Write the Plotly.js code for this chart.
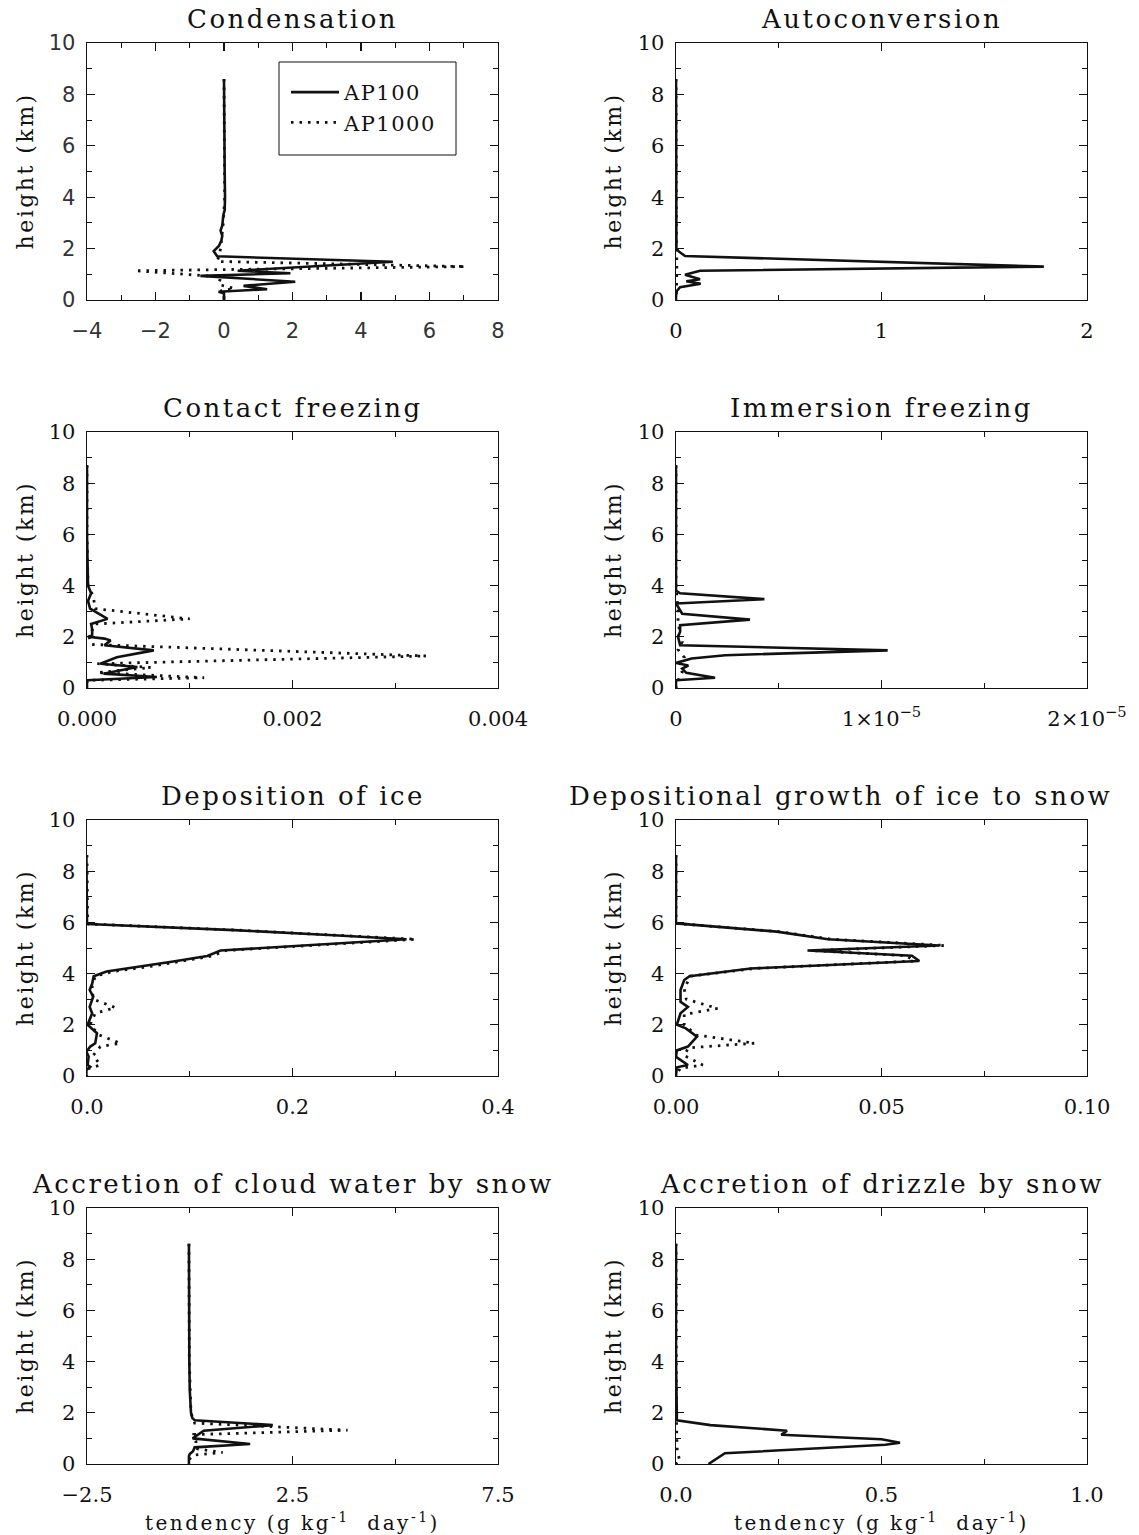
<!DOCTYPE html>
<html>
<head>
<meta charset="utf-8">
<script src="https://cdn.plot.ly/plotly-3.0.1.min.js"></script>
<style>
  html, body { margin: 0; padding: 0; background: #fff; }
  .annotation-text { letter-spacing: 2.5px; }
  .legendtext { letter-spacing: 1.5px; }
</style>
</head>
<body>
<div id="chart" style="width:1139px;height:1535px;"></div>
<script>
// ---------------- Data ----------------
const seriesNames = ["AP100", "AP1000"];
const panelTitles = ["Condensation", "Autoconversion", "Contact freezing", "Immersion freezing",
  "Deposition of ice", "Depositional growth of ice to snow",
  "Accretion of cloud water by snow", "Accretion of drizzle by snow"];

// Condensation
const condH100  = [8.6, 7.0, 5.0, 4.0, 3.5, 3.3, 2.9, 2.7, 2.5, 2.3, 2.1, 1.9, 1.7, 1.49, 1.14, 1.04, 0.94, 0.71, 0.55, 0.42, 0.32, 0.26, 0.0];
const condX100  = [0.0, 0.0, 0.02, 0.03, 0.02, -0.02, -0.05, -0.1, -0.05, -0.08, -0.15, -0.3, -0.2, 4.93, 0.4, 1.94, -0.69, 2.08, 0.57, 1.26, -0.16, 0.0, 0.0];
const condH1000 = [8.6, 6.0, 4.0, 3.0, 2.0, 1.7, 1.5, 1.3, 1.14, 0.9, 0.6, 0.45, 0.35, 0.2, 0.0];
const condX1000 = [0.0, 0.0, 0.02, -0.02, -0.1, -0.15, -0.2, 7.05, -2.6, -0.1, -0.15, 0.3, -0.1, 0.0, 0.0];

// Autoconversion
const autoH100  = [8.6, 6.0, 4.0, 2.0, 1.9, 1.71, 1.3, 1.14, 0.98, 0.81, 0.73, 0.63, 0.5, 0.35, 0.15, 0.0];
const autoX100  = [0, 0, 0, 0.002, 0.012, 0.044, 1.79, 0.117, 0.044, 0.117, 0.05, 0.12, 0.02, 0.004, 0.0, 0.0];
const autoH1000 = [8.6, 4.0, 2.0, 1.5, 1.0, 0.5, 0.0];
const autoX1000 = [0, 0, 0.002, 0.004, 0.004, 0.003, 0];

// Contact freezing
const contH100  = [8.7, 6.0, 4.0, 3.7, 3.4, 3.1, 2.7, 2.5, 2.3, 2.05, 2.0, 1.93, 1.86, 1.67, 1.47, 1.2, 0.95, 0.82, 0.56, 0.43, 0.3, 0.0];
const contX100  = [0, 0, 0.00001, 0.00004, 0.00001, 0.00003, 0.0002, 0.00004, 0.00005, 0.00005, 0.00001, 0.00017, 0.00023, 0.00017, 0.00065, 0.00029, 0.00013, 0.00049, 0.00016, 0.00068, 0.0, 0.0];
const contH1000 = [8.7, 6.0, 4.0, 3.6, 3.1, 2.7, 2.5, 2.0, 1.7, 1.25, 0.95, 0.8, 0.6, 0.4, 0.3, 0.0];
const contX1000 = [0, 0, 0.00001, 0.00006, 0.00008, 0.00100, 0.00008, 0.00002, 0.00005, 0.00330, 0.0001, 0.00062, 0.0001, 0.00114, 0.0, 0.0];

// Immersion freezing
const immH100  = [8.7, 6.0, 4.0, 3.8, 3.7, 3.47, 3.3, 2.9, 2.67, 2.45, 2.2, 2.0, 1.67, 1.47, 1.28, 1.15, 0.98, 0.88, 0.76, 0.59, 0.4, 0.3, 0.0];
const immX100  = [0, 0, 0, 0, 0.02e-5, 0.43e-5, 0.0, 0.03e-5, 0.36e-5, 0.02e-5, 0.02e-5, 0.01e-5, 0.02e-5, 1.03e-5, 0.24e-5, 0.076e-5, 0.0, 0.06e-5, 0.03e-5, 0.05e-5, 0.19e-5, 0.0, 0.0];
const immH1000 = [8.7, 4.0, 3.0, 2.5, 2.2, 2.0, 1.8, 1.5, 1.2, 1.0, 0.6, 0.3, 0.0];
const immX1000 = [0, 0, 0.01e-5, 0.01e-5, 0.02e-5, 0.01e-5, 0.03e-5, 0.01e-5, 0.04e-5, 0.02e-5, 0.03e-5, 0.01e-5, 0];

// Deposition of ice
const depH100  = [8.63, 7.8, 7.0, 6.0, 5.94, 5.7, 5.5, 5.34, 4.9, 4.69, 4.47, 4.27, 4.08, 3.9, 3.6, 3.36, 3.1, 2.7, 2.45, 2.0, 1.67, 1.28, 1.15, 0.95, 0.76, 0.43, 0.36, 0.23, 0.0];
const depX100  = [-0.0006, -0.0006, 0, 0, 0.0006, 0.143, 0.24, 0.311, 0.13, 0.117, 0.084, 0.052, 0.019, 0.0065, 0.005, 0.0026, 0.006, 0.0026, 0.005, 0.0006, 0.0097, 0.008, 0.0032, -0.0006, 0.0016, 0.0006, 0.0032, -0.0006, -0.0006];
const depH1000 = [8.63, 7.0, 6.0, 5.94, 5.7, 5.5, 5.34, 4.9, 4.69, 4.47, 4.27, 4.08, 3.9, 3.5, 3.0, 2.67, 2.45, 2.0, 1.6, 1.28, 1.15, 0.8, 0.43, 0.3, 0.0];
const depX1000 = [0, 0, 0, 0.0006, 0.145, 0.245, 0.32, 0.135, 0.122, 0.09, 0.06, 0.025, 0.008, 0.005, 0.006, 0.0276, 0.008, 0.003, 0.012, 0.0324, 0.013, 0.006, 0.013, 0.002, 0];

// Depositional growth of ice to snow
const dgH100  = [8.63, 7.0, 6.0, 5.96, 5.64, 5.34, 5.1, 4.9, 4.7, 4.49, 4.2, 3.9, 3.75, 3.36, 2.9, 2.7, 2.45, 2.0, 1.86, 1.54, 1.15, 1.0, 0.75, 0.43, 0.34, 0.0];
const dgX100  = [0, 0, 0, 0, 0.0245, 0.037, 0.064, 0.032, 0.0574, 0.0592, 0.0182, 0.0033, 0.0020, 0.0011, 0.0011, 0.0029, 0.0011, 0.0002, 0.0024, 0.0051, 0.0029, 0.0002, 0.0, 0.0029, 0.0002, 0];
const dgH1000 = [8.63, 6.0, 5.96, 5.64, 5.34, 5.1, 4.9, 4.7, 4.49, 4.2, 3.9, 3.4, 3.0, 2.64, 2.4, 2.0, 1.6, 1.28, 1.1, 0.8, 0.43, 0.3, 0.0];
const dgX1000 = [0, 0, 0, 0.025, 0.038, 0.0655, 0.033, 0.056, 0.058, 0.019, 0.0035, 0.002, 0.0025, 0.0101, 0.002, 0.002, 0.005, 0.0191, 0.003, 0.002, 0.0065, 0.001, 0];

// Accretion of cloud water by snow
const acH100  = [8.6, 6.0, 4.0, 2.9, 2.0, 1.8, 1.71, 1.52, 1.3, 1.0, 0.78, 0.65, 0.5, 0.39, 0.3, 0.0];
const acX100  = [-0.02, -0.02, -0.01, 0.0, 0.03, 0.06, 0.12, 2.02, 0.34, 0.07, 1.47, 0.12, 0.08, 0.0, -0.02, -0.02];
const acH1000 = [8.6, 4.0, 2.0, 1.6, 1.32, 1.15, 0.9, 0.6, 0.45, 0.35, 0.2, 0.0];
const acX1000 = [-0.02, -0.01, 0.03, 0.12, 3.84, 0.1, 0.15, 0.15, 0.8, 0.1, 0.0, -0.02];

// Accretion of drizzle by snow
const adH100  = [8.6, 6.0, 4.0, 2.0, 1.71, 1.52, 1.3, 1.14, 0.97, 0.83, 0.75, 0.42, 0.0];
const adX100  = [0, 0, 0, 0.002, 0.002, 0.084, 0.27, 0.256, 0.5, 0.545, 0.509, 0.119, 0.079];
const adH1000 = [8.6, 4.0, 2.0, 1.0, 0.5, 0.2, 0.1, 0.0];
const adX1000 = [0, 0, 0.001, 0.002, 0.003, 0.008, 0.01, 0];

// Axis ranges / ticks
const xRanges = [[-4, 8], [0, 2], [0, 0.004], [0, 2e-5], [0, 0.4], [0, 0.1], [-2.5, 7.5], [0, 1]];
const xDticks = [2, 1, 0.002, 1e-5, 0.2, 0.05, 5, 0.5];
const xMinorDticks = [1, 0.5, 0.001, 0.5e-5, 0.1, 0.025, 2.5, 0.25];
const xTickFormats = ["", "", ".3f", "", ".1f", ".2f", ".1f", ".1f"];
const immTickVals = [0, 1e-5, 2e-5];
const immTickText = ["0", "1×10<sup>−5</sup>", "2×10<sup>−5</sup>"];
const yRange = [0, 10];

const panels = [
  [condH100, condX100, condH1000, condX1000],
  [autoH100, autoX100, autoH1000, autoX1000],
  [contH100, contX100, contH1000, contX1000],
  [immH100, immX100, immH1000, immX1000],
  [depH100, depX100, depH1000, depX1000],
  [dgH100, dgX100, dgH1000, dgX1000],
  [acH100, acX100, acH1000, acX1000],
  [adH100, adX100, adH1000, adX1000]
];

// ---------------- Layout geometry ----------------
const W = 1139, H = 1535;
const colPx = [[87, 498], [676, 1087]];
const rowPx = [[43, 300], [432, 688], [820, 1076], [1208, 1464]];
const titleShift = [0, 0, 0, 0, 0, -41, 0, 0];
const serif = "DejaVu Serif, serif";
const sans = "DejaVu Sans, Liberation Sans, sans-serif";
const ink = "#111";

const traces = [];
const layout = {
  width: W, height: H,
  margin: {l: 0, r: 0, t: 0, b: 0},
  paper_bgcolor: "#fff", plot_bgcolor: "#fff",
  showlegend: true,
  legend: {
    x: 286 / W, y: 1 - 72 / H, xanchor: "left", yanchor: "top",
    borderwidth: 0, bgcolor: "rgba(255,255,255,0)",
    font: {family: serif, size: 21, color: ink},
    tracegroupgap: 0, itemwidth: 48
  },
  shapes: [{
    type: "rect", xref: "paper", yref: "paper",
    x0: 279 / W, x1: 456 / W, y0: 1 - 155 / H, y1: 1 - 62 / H,
    line: {color: ink, width: 1}, fillcolor: "rgba(0,0,0,0)"
  }],
  annotations: []
};

panels.forEach((p, i) => {
  const col = i % 2, row = Math.floor(i / 2);
  const n = i === 0 ? "" : String(i + 1);
  const xa = "x" + n, ya = "y" + n;
  const tf = {family: i === 0 ? sans : serif, size: 21, color: i === 0 ? "#333" : ink};

  traces.push({
    x: p[1], y: p[0], xaxis: xa, yaxis: ya, type: "scatter", mode: "lines",
    name: seriesNames[0], legendgroup: "a", showlegend: i === 0,
    line: {color: ink, width: 2.6}, hoverinfo: "skip"
  });
  traces.push({
    x: p[3], y: p[2], xaxis: xa, yaxis: ya, type: "scatter", mode: "lines",
    name: seriesNames[1], legendgroup: "b", showlegend: i === 0,
    line: {color: ink, width: 2.8, dash: "2.5px,6px"}, hoverinfo: "skip"
  });

  const xdom = [colPx[col][0] / W, colPx[col][1] / W];
  const ydom = [1 - rowPx[row][1] / H, 1 - rowPx[row][0] / H];
  const common = {
    showline: true, linecolor: ink, linewidth: 1.4, mirror: "ticks",
    ticks: "inside", ticklen: 8, tickwidth: 1.2, tickcolor: ink,
    showgrid: false, zeroline: false, fixedrange: true,
    tickfont: tf
  };
  const xcfg = Object.assign({}, common, {
    domain: xdom, anchor: ya, range: xRanges[i],
    ticklabelstandoff: 11,
    minor: {ticks: "inside", ticklen: 5, tickwidth: 1, tickcolor: ink, dtick: xMinorDticks[i], tick0: xRanges[i][0], showgrid: false}
  });
  if (i === 3) {
    xcfg.tickmode = "array"; xcfg.tickvals = immTickVals; xcfg.ticktext = immTickText;
    xcfg.minor = {ticks: "inside", ticklen: 5, tickwidth: 1, tickcolor: ink, tickvals: [0.5e-5, 1.5e-5], showgrid: false};
  } else {
    xcfg.dtick = xDticks[i]; xcfg.tick0 = xRanges[i][0];
    if (xTickFormats[i]) xcfg.tickformat = xTickFormats[i];
  }
  const ycfg = Object.assign({}, common, {
    domain: ydom, anchor: xa, range: yRange, dtick: 2, tick0: 0,
    ticklabelstandoff: 6,
    minor: {ticks: "inside", ticklen: 5, tickwidth: 1, tickcolor: ink, dtick: 1, tick0: 0, showgrid: false}
  });
  layout["xaxis" + n] = xcfg;
  layout["yaxis" + n] = ycfg;

  // panel title
  layout.annotations.push({
    text: panelTitles[i], xref: xa + " domain", yref: ya + " domain",
    x: 0.5, y: 1, xanchor: "center", yanchor: "bottom", yshift: 7, xshift: titleShift[i],
    showarrow: false, font: {family: serif, size: 26, color: ink}
  });
  // y-axis title
  layout.annotations.push({
    text: "height (km)", xref: "paper", yref: ya + " domain",
    x: (col === 0 ? 25 : 613) / W, y: 0.5, xanchor: "center", yanchor: "middle",
    textangle: -90, showarrow: false, font: {family: serif, size: 22, color: ink}
  });
  // x-axis title on bottom row
  if (row === 3) {
    layout.annotations.push({
      text: "tendency (g kg<sup>-1</sup>  day<sup>-1</sup>)", xref: xa + " domain", yref: "paper",
      x: 0.5, y: 1 - 1522 / H, xanchor: "center", yanchor: "middle",
      showarrow: false, font: {family: serif, size: 20, color: ink}
    });
  }
});

Plotly.newPlot("chart", traces, layout, {staticPlot: true, displayModeBar: false});
</script>
</body>
</html>
